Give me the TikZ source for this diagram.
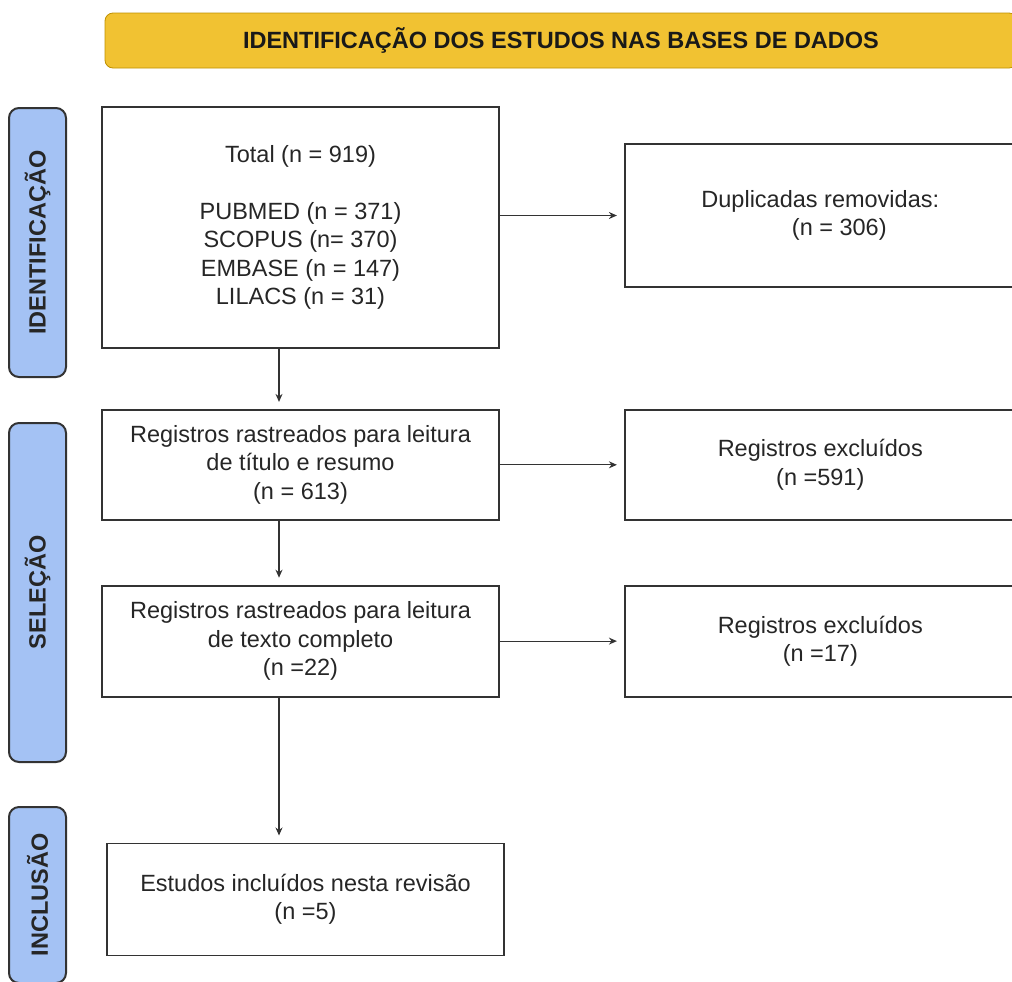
\documentclass[tikz,border=0pt]{standalone}
\usepackage{fontspec}
\setmainfont{Liberation Sans}
\usetikzlibrary{positioning,arrows.meta}
\definecolor{bannerGold}{RGB}{241,194,50}
\definecolor{bannerEdge}{RGB}{191,144,0}
\definecolor{phaseBlue}{RGB}{164,194,244}
\definecolor{lineGray}{RGB}{51,51,51}

\begin{document}
\begin{tikzpicture}[x=0.5pt, y=-0.5pt,
    box/.style={draw=lineGray, line width=0.9pt, align=center, inner sep=0pt, text=black!85, font=\fontsize{11.75}{14.25}\selectfont, minimum width=198.5pt},
    sidebox/.style={box, minimum width=195.5pt},
    phase/.style={draw=lineGray, line width=1pt, fill=phaseBlue, rounded corners=5pt, rotate=90, minimum height=28.5pt, inner sep=0pt, text=black!85, font=\bfseries\fontsize{11.75}{14}\selectfont},
    flow/.style={-{Stealth[length=4pt,width=3.5pt]}, line width=0.6pt, draw=lineGray, shorten >=3.5pt}]
            \useasboundingbox (0,0) rectangle (1012,981);
            \clip (0,0) rectangle (1012,981);
            \node[draw=bannerEdge, fill=bannerGold, rounded corners=4pt, minimum width=456pt, minimum height=27.5pt, text=black!90, font=\bfseries\fontsize{11.75}{14}\selectfont] (banner) at (561,40.5) {IDENTIFICAÇÃO DOS ESTUDOS NAS BASES DE DADOS};
            \node[phase, minimum width=134.5pt] (pid) at (37.5,242.5) {IDENTIFICAÇÃO};
            \node[phase, minimum width=169.5pt] (psel) at (37.5,592.5) {SELEÇÃO};
            \node[phase, minimum width=88pt] (pinc) at (37.5,895) {INCLUSÃO};
            \node[box, minimum height=120.5pt] (total) at (300.5,227.5) {Total (n = 919)\\[14.25pt] PUBMED (n = 371)\\ SCOPUS (n= 370)\\ EMBASE (n = 147)\\ LILACS (n = 31)};
            \node[box, minimum height=55pt, below=30pt of total] (ras1) {Registros rastreados para leitura\\ de título e resumo\\ (n = 613)};
            \node[box, minimum height=55.5pt, below=32pt of ras1] (ras2) {Registros rastreados para leitura\\ de texto completo\\ (n =22)};
            \node[box, minimum height=56pt, below=72.5pt of ras2, xshift=2.5pt] (incl) {Estudos incluídos nesta revisão\\ (n =5)};
            \node[sidebox, minimum height=71.5pt, right=62pt of total, yshift=6pt] (dup) {Duplicadas removidas:\\ \hspace*{19pt}(n = 306)};
            \node[sidebox, minimum height=55pt, right=62pt of ras1] (exc1) {Registros excluídos\\ (n =591)};
            \node[sidebox, minimum height=55.5pt, right=62pt of ras2] (exc2) {Registros excluídos\\ (n =17)};
            \coordinate (spine) at (279,0);
            \draw[flow] (total.south -| spine) -- (ras1.north -| spine);
            \draw[flow] (ras1.south -| spine) -- (ras2.north -| spine);
            \draw[flow] (ras2.south -| spine) -- (incl.north -| spine);
            \draw[flow] (total.east |- dup) -- (dup.west);
            \draw[flow] (ras1.east) -- (exc1.west);
            \draw[flow] (ras2.east) -- (exc2.west);
        \end{tikzpicture}
\end{document}
